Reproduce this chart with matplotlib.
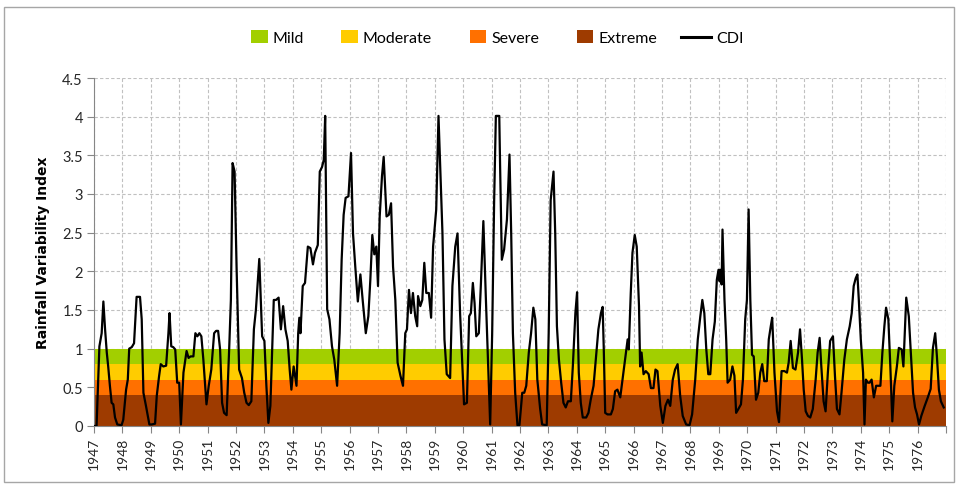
import numpy as np
import matplotlib
matplotlib.use("Agg")
import matplotlib.pyplot as plt
from matplotlib.patches import Patch, Rectangle
from matplotlib.lines import Line2D
from matplotlib.legend_handler import HandlerPatch

plt.rcParams['font.family'] = ['Lato', 'DejaVu Sans']

# CDI readings (decimal year, index value)
t_1947 = [1947.00, 1947.09, 1947.19, 1947.27, 1947.33, 1947.39, 1947.45, 1947.50, 1947.56, 1947.62,
          1947.68, 1947.74, 1947.82, 1947.97, 1948.03, 1948.13, 1948.19, 1948.24, 1948.33, 1948.41,
          1948.50, 1948.62, 1948.68, 1948.74, 1948.83, 1948.95, 1949.03, 1949.15, 1949.21, 1949.29,
          1949.35, 1949.44, 1949.54, 1949.62, 1949.66, 1949.72, 1949.79, 1949.86, 1949.93, 1950.00,
          1950.06, 1950.15, 1950.26, 1950.33, 1950.40, 1950.50, 1950.57, 1950.64, 1950.71, 1950.78,
          1950.85, 1950.96, 1951.04, 1951.13, 1951.23, 1951.30, 1951.37, 1951.44, 1951.51, 1951.58,
          1951.67, 1951.76, 1951.82, 1951.88, 1951.95, 1952.02, 1952.11, 1952.21, 1952.29, 1952.37,
          1952.45, 1952.54, 1952.63, 1952.70, 1952.82, 1952.92]
v_1947 = [0.00, 0.00, 1.03, 1.20, 1.61, 1.25, 0.95, 0.77, 0.52, 0.30,
          0.28, 0.11, 0.02, 0.01, 0.08, 0.47, 0.60, 1.00, 1.02, 1.07,
          1.67, 1.67, 1.38, 0.43, 0.26, 0.02, 0.02, 0.03, 0.39, 0.64,
          0.80, 0.77, 0.78, 1.20, 1.46, 1.03, 1.02, 0.99, 0.56, 0.56,
          0.02, 0.69, 0.97, 0.88, 0.90, 0.90, 1.20, 1.16, 1.20, 1.16,
          0.86, 0.28, 0.52, 0.73, 1.20, 1.23, 1.23, 0.99, 0.30, 0.17,
          0.14, 1.00, 1.63, 3.40, 3.29, 2.06, 0.73, 0.62, 0.43, 0.30,
          0.27, 0.32, 1.25, 1.50, 2.16, 1.16]

t_1953 = [1953.00, 1953.07, 1953.14, 1953.21, 1953.33, 1953.41, 1953.50, 1953.58, 1953.66, 1953.74,
          1953.82, 1953.89, 1953.95, 1954.03, 1954.13, 1954.19, 1954.23, 1954.27, 1954.35, 1954.43,
          1954.53, 1954.62, 1954.71, 1954.78, 1954.88, 1954.95, 1955.03, 1955.09, 1955.14, 1955.21,
          1955.29, 1955.38, 1955.46, 1955.56, 1955.65, 1955.72, 1955.79, 1955.86, 1955.96, 1956.05,
          1956.12, 1956.20, 1956.29, 1956.38, 1956.46, 1956.57, 1956.66, 1956.73, 1956.80, 1956.87,
          1956.94, 1957.00, 1957.06, 1957.14, 1957.20, 1957.30, 1957.38, 1957.46, 1957.53, 1957.61,
          1957.69, 1957.79, 1957.88, 1957.96, 1958.02, 1958.09, 1958.16, 1958.23, 1958.31, 1958.38,
          1958.41, 1958.49, 1958.56, 1958.63, 1958.70, 1958.79, 1958.87, 1958.94]
v_1953 = [1.10, 0.52, 0.04, 0.26, 1.63, 1.63, 1.66, 1.25, 1.55, 1.25,
          1.10, 0.73, 0.47, 0.77, 0.52, 1.20, 1.40, 1.20, 1.81, 1.85,
          2.32, 2.30, 2.09, 2.24, 2.34, 3.29, 3.35, 3.44, 4.01, 1.51,
          1.38, 1.03, 0.86, 0.52, 1.20, 2.15, 2.73, 2.95, 2.97, 3.53,
          2.49, 2.06, 1.61, 1.96, 1.63, 1.20, 1.42, 1.89, 2.47, 2.22,
          2.32, 1.81, 2.71, 3.23, 3.48, 2.71, 2.73, 2.88, 2.06, 1.63,
          0.82, 0.65, 0.52, 1.20, 1.25, 1.76, 1.46, 1.72, 1.42, 1.29,
          1.68, 1.55, 1.63, 2.11, 1.72, 1.72, 1.40, 2.32]

t_1959 = [1959.05, 1959.13, 1959.19, 1959.27, 1959.34, 1959.42, 1959.54, 1959.62, 1959.72, 1959.80,
          1959.89, 1959.96, 1960.03, 1960.13, 1960.21, 1960.27, 1960.34, 1960.40, 1960.46, 1960.55,
          1960.62, 1960.71, 1960.80, 1960.88, 1960.95, 1961.02, 1961.09, 1961.15, 1961.27, 1961.30,
          1961.36, 1961.44, 1961.54, 1961.63, 1961.69, 1961.75, 1961.83, 1961.91, 1961.98, 1962.08,
          1962.15, 1962.22, 1962.31, 1962.39, 1962.47, 1962.54, 1962.61, 1962.71, 1962.78, 1962.94,
          1963.01, 1963.08, 1963.18, 1963.24, 1963.30, 1963.37, 1963.45, 1963.53, 1963.61, 1963.69,
          1963.79, 1963.86, 1963.95, 1964.01, 1964.07, 1964.14, 1964.21, 1964.33, 1964.41, 1964.49,
          1964.59, 1964.67, 1964.76, 1964.85, 1964.91, 1964.95]
v_1959 = [2.80, 4.01, 3.35, 2.49, 1.12, 0.67, 0.62, 1.81, 2.32, 2.49,
          1.46, 0.86, 0.28, 0.30, 1.42, 1.46, 1.85, 1.59, 1.16, 1.20,
          1.81, 2.65, 1.63, 0.77, 0.02, 1.20, 2.92, 4.01, 4.01, 3.35,
          2.15, 2.28, 2.67, 3.51, 2.49, 1.20, 0.43, 0.01, 0.01, 0.43,
          0.43, 0.52, 0.95, 1.20, 1.53, 1.38, 0.60, 0.22, 0.02, 0.01,
          1.20, 2.92, 3.29, 2.49, 1.29, 0.86, 0.56, 0.30, 0.24, 0.32,
          0.32, 0.77, 1.46, 1.73, 0.69, 0.30, 0.11, 0.11, 0.17, 0.34,
          0.52, 0.86, 1.25, 1.46, 1.54, 0.99]

t_1965 = [1965.00, 1965.08, 1965.20, 1965.27, 1965.35, 1965.43, 1965.53, 1965.61, 1965.70, 1965.79,
          1965.83, 1965.90, 1965.96, 1966.04, 1966.11, 1966.19, 1966.23, 1966.28, 1966.35, 1966.43,
          1966.53, 1966.61, 1966.70, 1966.77, 1966.84, 1966.94, 1967.03, 1967.12, 1967.21, 1967.29,
          1967.38, 1967.46, 1967.55, 1967.64, 1967.73, 1967.85, 1967.97, 1968.06, 1968.17, 1968.26,
          1968.35, 1968.42, 1968.49, 1968.56, 1968.63, 1968.70, 1968.78, 1968.86, 1968.93, 1968.99,
          1969.03, 1969.06, 1969.10, 1969.13, 1969.20, 1969.26, 1969.31, 1969.40, 1969.48, 1969.55,
          1969.61, 1969.69, 1969.78, 1969.85, 1969.93, 1969.99, 1970.05, 1970.11, 1970.17, 1970.23,
          1970.31, 1970.39, 1970.46, 1970.53, 1970.60, 1970.69, 1970.76, 1970.83, 1970.88, 1970.96]
v_1965 = [0.17, 0.15, 0.15, 0.22, 0.45, 0.47, 0.37, 0.60, 0.86, 1.12,
          0.99, 1.72, 2.24, 2.47, 2.32, 1.55, 0.77, 0.95, 0.67, 0.71,
          0.67, 0.49, 0.49, 0.73, 0.71, 0.26, 0.04, 0.26, 0.34, 0.26,
          0.60, 0.73, 0.80, 0.39, 0.13, 0.02, 0.01, 0.15, 0.60, 1.12,
          1.42, 1.63, 1.46, 0.99, 0.67, 0.67, 1.12, 1.35, 1.89, 2.02,
          1.87, 2.02, 1.83, 2.54, 1.63, 1.12, 0.56, 0.60, 0.77, 0.65,
          0.17, 0.22, 0.28, 0.60, 1.38, 1.63, 2.80, 1.63, 0.92, 0.90,
          0.34, 0.43, 0.69, 0.80, 0.58, 0.58, 1.12, 1.29, 1.40, 0.69]

t_1971 = [1971.05, 1971.12, 1971.21, 1971.31, 1971.40, 1971.46, 1971.53, 1971.61, 1971.70, 1971.79,
          1971.86, 1971.93, 1971.99, 1972.06, 1972.14, 1972.22, 1972.31, 1972.41, 1972.48, 1972.55,
          1972.61, 1972.69, 1972.76, 1972.84, 1972.92, 1973.02, 1973.09, 1973.16, 1973.25, 1973.32,
          1973.42, 1973.51, 1973.61, 1973.68, 1973.75, 1973.82, 1973.88, 1973.93, 1974.00, 1974.08,
          1974.13, 1974.18, 1974.25, 1974.31, 1974.38, 1974.46, 1974.54, 1974.69, 1974.76, 1974.83,
          1974.89, 1974.97, 1975.04, 1975.11, 1975.18, 1975.27, 1975.34, 1975.44, 1975.50, 1975.55,
          1975.60, 1975.69, 1975.77, 1975.84, 1975.91, 1975.98, 1976.05, 1976.13, 1976.25, 1976.36,
          1976.46, 1976.54, 1976.62, 1976.68, 1976.75, 1976.82, 1976.92]
v_1971 = [0.19, 0.05, 0.71, 0.71, 0.69, 0.82, 1.10, 0.75, 0.73, 0.95,
          1.25, 0.86, 0.47, 0.19, 0.13, 0.11, 0.22, 0.60, 0.95, 1.14,
          0.77, 0.32, 0.19, 0.69, 1.10, 1.16, 0.65, 0.22, 0.15, 0.43,
          0.86, 1.12, 1.29, 1.46, 1.81, 1.91, 1.96, 1.63, 1.12, 0.69,
          0.02, 0.60, 0.56, 0.56, 0.60, 0.37, 0.52, 0.52, 0.95, 1.29,
          1.53, 1.38, 0.77, 0.06, 0.52, 0.77, 1.01, 0.99, 0.77, 1.20,
          1.66, 1.42, 0.90, 0.43, 0.24, 0.15, 0.02, 0.13, 0.26, 0.37,
          0.48, 1.01, 1.20, 0.90, 0.47, 0.32, 0.24]

cdi_t = t_1947 + t_1953 + t_1959 + t_1965 + t_1971
cdi_v = v_1947 + v_1953 + v_1959 + v_1965 + v_1971

# drought classes
class_labels = ['Mild', 'Moderate', 'Severe', 'Extreme']
class_lower = [0.8, 0.6, 0.4, 0.0]
class_upper = [1.0, 0.8, 0.6, 0.4]
class_colors = ['#A2CF00', '#FFCC00', '#FF7000', '#9E3B00']

years = list(range(1947, 1978))
year_labels = [str(y) for y in years[:-1]] + ['']

fig = plt.figure(figsize=(9.56, 4.85), dpi=100)
ax = fig.add_axes([94 / 956, 1 - 427 / 485, 852 / 956, 348 / 485])

# chart border like the Excel frame
fig.patches.append(Rectangle((4 / 956, 2 / 485), 950 / 956, 475 / 485, transform=fig.transFigure,
                             fill=False, edgecolor='#a6a6a6', linewidth=1.0))

for lab, lo, hi, col in zip(class_labels, class_lower, class_upper, class_colors):
    ax.axhspan(lo, hi, color=col, zorder=1, linewidth=0)

ax.plot(cdi_t, cdi_v, color='black', linewidth=1.6, zorder=3)

ax.set_xlim(1947, 1977)
ax.set_ylim(0, 4.5)
ax.set_xticks(years)
ax.set_xticklabels(year_labels, rotation=90, fontsize=10, color='#262626')
ax.set_yticks(np.arange(0, 4.51, 0.5))
ax.set_yticklabels(['0', '0.5', '1', '1.5', '2', '2.5', '3', '3.5', '4', '4.5'], fontsize=10.5, color='#262626')
ax.grid(True, color='#c0c0c0', linestyle=(0, (3, 2)), linewidth=0.8, zorder=0)
ax.set_axisbelow(True)
for s in ['top', 'right']:
    ax.spines[s].set_visible(False)
for s in ['left', 'bottom']:
    ax.spines[s].set_color('#868686')
ax.tick_params(axis='both', color='#868686', length=5, width=0.8, pad=3)

ax.set_ylabel('Rainfall Variability Index', fontsize=10, fontweight='bold',
              family='DejaVu Sans', labelpad=9)


# short boxes sitting next to the text, like the Excel legend keys
def key_box(legend, orig_handle, xdescent, ydescent, width, height, fontsize):
    w = width * 0.55
    return Rectangle((-xdescent + width - w, -ydescent - 1), w, height + 2)


handles = [Patch(facecolor=c, edgecolor='none') for c in class_colors]
handles.append(Line2D([0], [0], color='black', linewidth=2.2))
fig.legend(handles, class_labels + ['CDI'], loc='center', bbox_to_anchor=(0.513, 1 - 39 / 485),
           ncol=5, frameon=False, fontsize=11.5, handlelength=1.9, handleheight=0.7,
           handletextpad=0.3, columnspacing=1.5,
           handler_map={Patch: HandlerPatch(patch_func=key_box)})

fig.savefig('out.png', dpi=100)
